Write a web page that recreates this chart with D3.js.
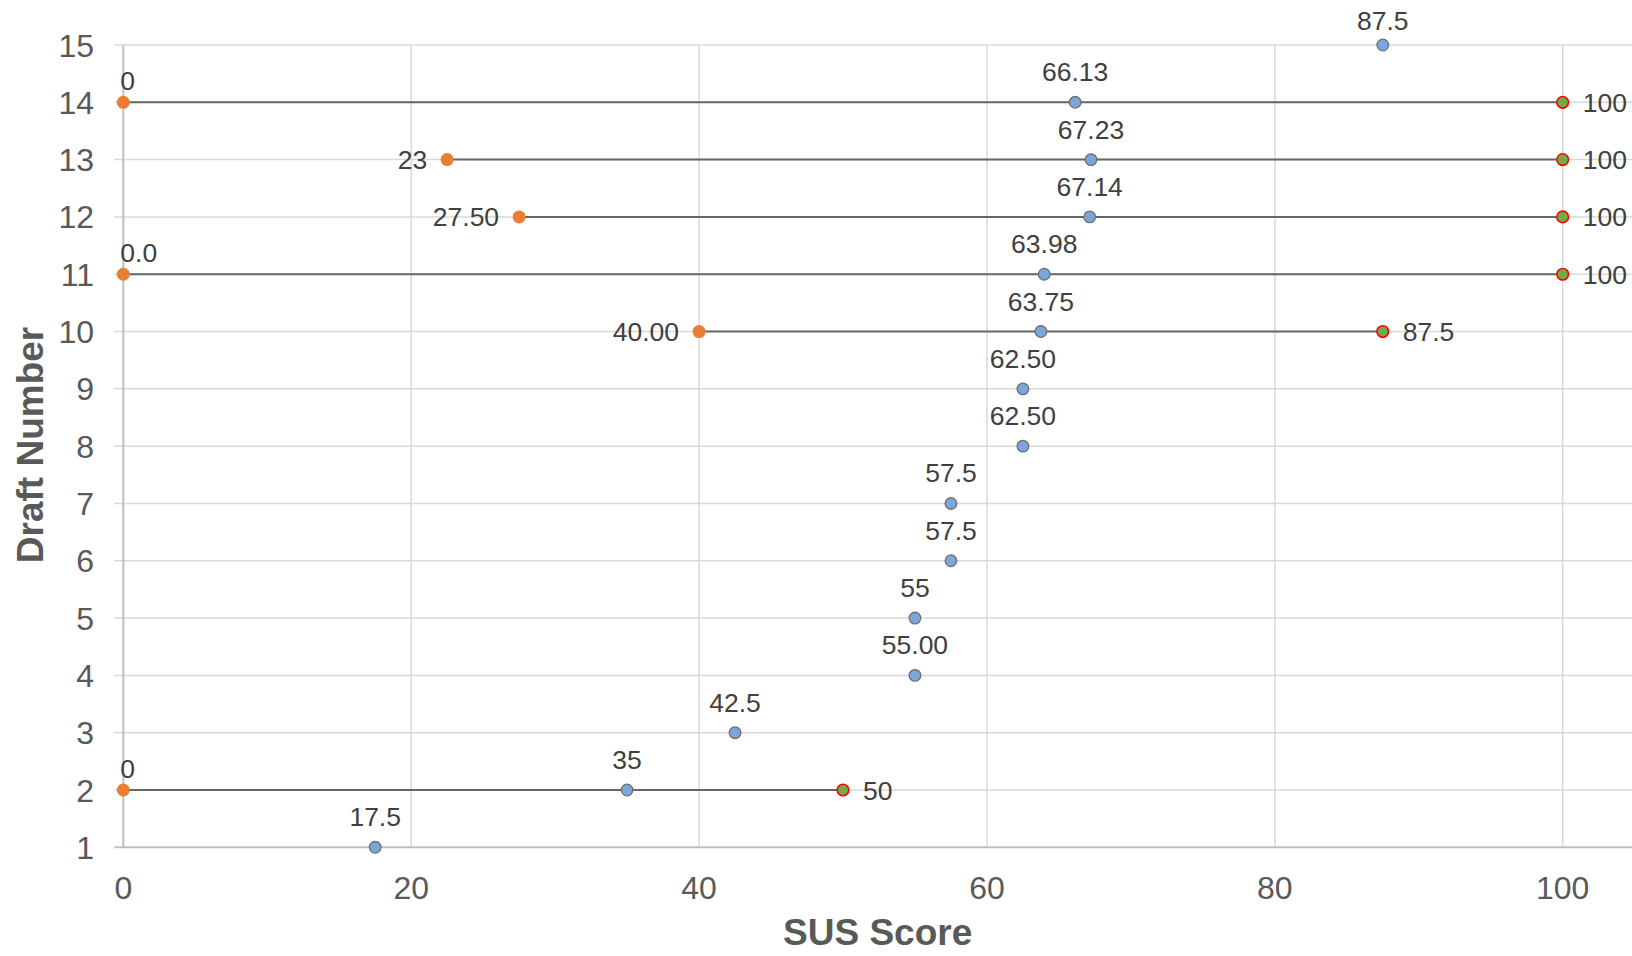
<!DOCTYPE html>
<html>
<head>
<meta charset="utf-8">
<script src="https://cdn.jsdelivr.net/npm/d3@7"></script>
<style>
  html, body { margin: 0; padding: 0; background: #fff; }
  svg { display: block; font-family: "Liberation Sans", Arial, sans-serif; }
</style>
</head>
<body>
<svg id="chart" width="1632" height="956"></svg>
<script>
// ---- data ----
const drafts = [1, 2, 3, 4, 5, 6, 7, 8, 9, 10, 11, 12, 13, 14, 15];
const meanScores = [17.5, 35, 42.5, 55, 55, 57.5, 57.5, 62.5, 62.5, 63.75, 63.98, 67.14, 67.23, 66.13, 87.5];
const meanLabels = ["17.5", "35", "42.5", "55.00", "55", "57.5", "57.5", "62.50", "62.50", "63.75", "63.98", "67.14", "67.23", "66.13", "87.5"];

const rangeDrafts = [2, 10, 11, 12, 13, 14];
const minScores = [0, 40, 0, 27.5, 22.5, 0];
const minLabels = ["0", "40.00", "0.0", "27.50", "23", "0"];
const maxScores = [50, 87.5, 100, 100, 100, 100];
const maxLabels = ["50", "87.5", "100", "100", "100", "100"];

const xTicks = [0, 20, 40, 60, 80, 100];
const yTicks = [1, 2, 3, 4, 5, 6, 7, 8, 9, 10, 11, 12, 13, 14, 15];
const xTitle = "SUS Score";
const yTitle = "Draft Number";

// ---- layout ----
const W = 1632, H = 956;
const plotLeft = 123.3, plotRight = 1632, plotTop = 45, plotBottom = 847.3;
const x = d3.scaleLinear().domain([0, 100]).range([plotLeft, 1562.7]);
const y = d3.scaleLinear().domain([1, 15]).range([plotBottom, plotTop]);
const labelSize = 26.5;

const svg = d3.select("#chart");

// gridlines
svg.append("g").selectAll("line").data(yTicks.filter(d => d !== 1)).join("line")
  .attr("x1", plotLeft - 9).attr("x2", plotRight)
  .attr("y1", d => y(d)).attr("y2", d => y(d))
  .attr("stroke", "#D9D9D9").attr("stroke-width", 1.5);
svg.append("g").selectAll("line").data(xTicks.filter(d => d !== 0)).join("line")
  .attr("x1", d => x(d)).attr("x2", d => x(d))
  .attr("y1", plotTop).attr("y2", plotBottom)
  .attr("stroke", "#D9D9D9").attr("stroke-width", 1.5);

// axis lines
svg.append("line").attr("x1", x(0)).attr("x2", x(0)).attr("y1", plotTop).attr("y2", plotBottom)
  .attr("stroke", "#BFBFBF").attr("stroke-width", 2);
svg.append("line").attr("x1", plotLeft - 9).attr("x2", plotRight).attr("y1", plotBottom).attr("y2", plotBottom)
  .attr("stroke", "#BFBFBF").attr("stroke-width", 2);

// tick labels
svg.append("g").selectAll("text").data(yTicks).join("text")
  .attr("x", 94).attr("y", d => y(d)).attr("dy", "0.36em")
  .attr("text-anchor", "end").attr("font-size", 32).attr("fill", "#595959")
  .text(d => d);
svg.append("g").selectAll("text").data(xTicks).join("text")
  .attr("x", d => x(d)).attr("y", 898.5)
  .attr("text-anchor", "middle").attr("font-size", 32).attr("fill", "#595959")
  .text(d => d);

// titles
svg.append("text").attr("x", (plotLeft + plotRight) / 2).attr("y", 945)
  .attr("text-anchor", "middle").attr("font-size", 37).attr("font-weight", "bold")
  .attr("fill", "#595959").text(xTitle);
svg.append("text").attr("transform", "translate(43,445) rotate(-90)")
  .attr("text-anchor", "middle").attr("font-size", 37).attr("font-weight", "bold")
  .attr("fill", "#595959").text(yTitle);

// range lines
const ranges = rangeDrafts.map((d, i) => ({ d, min: minScores[i], max: maxScores[i], minL: minLabels[i], maxL: maxLabels[i] }));
svg.append("g").selectAll("line").data(ranges).join("line")
  .attr("x1", r => x(r.min)).attr("x2", r => x(r.max))
  .attr("y1", r => y(r.d)).attr("y2", r => y(r.d))
  .attr("stroke", "#666666").attr("stroke-width", 2);

// mean points
const means = drafts.map((d, i) => ({ d, v: meanScores[i], l: meanLabels[i] }));
svg.append("g").selectAll("circle").data(means).join("circle")
  .attr("cx", m => x(m.v)).attr("cy", m => y(m.d)).attr("r", 5.8)
  .attr("fill", "#7BA6DC").attr("stroke", "#6E6E6E").attr("stroke-width", 1.3);
svg.append("g").selectAll("text").data(means).join("text")
  .attr("x", m => x(m.v)).attr("y", m => Math.max(y(m.d) - 21, 30))
  .attr("text-anchor", "middle").attr("font-size", labelSize).attr("fill", "#404040")
  .text(m => m.l);

// min points
svg.append("g").selectAll("circle").data(ranges).join("circle")
  .attr("cx", r => x(r.min)).attr("cy", r => y(r.d)).attr("r", 6.5)
  .attr("fill", "#ED7D31");
const minText = svg.append("g").selectAll("text").data(ranges).join("text")
  .attr("font-size", labelSize).attr("fill", "#404040").text(r => r.minL);
minText.each(function(r) {
  const t = d3.select(this);
  const w = this.getComputedTextLength();
  const px = x(r.min), py = y(r.d);
  if (px - 20 - w < plotLeft) {
    // not enough room on the left: place above, kept inside the plot
    const left = Math.max(px - w / 2, plotLeft - 3);
    t.attr("x", left).attr("y", py - 12).attr("text-anchor", "start");
  } else {
    t.attr("x", px - 20).attr("y", py).attr("dy", "0.36em").attr("text-anchor", "end");
  }
});

// max points
svg.append("g").selectAll("circle").data(ranges).join("circle")
  .attr("cx", r => x(r.max)).attr("cy", r => y(r.d)).attr("r", 5.8)
  .attr("fill", "#70AD47").attr("stroke", "#FF0000").attr("stroke-width", 1.6);
svg.append("g").selectAll("text").data(ranges).join("text")
  .attr("x", r => x(r.max) + 20).attr("y", r => y(r.d)).attr("dy", "0.36em")
  .attr("text-anchor", "start").attr("font-size", labelSize).attr("fill", "#404040")
  .text(r => r.maxL);
</script>
</body>
</html>
